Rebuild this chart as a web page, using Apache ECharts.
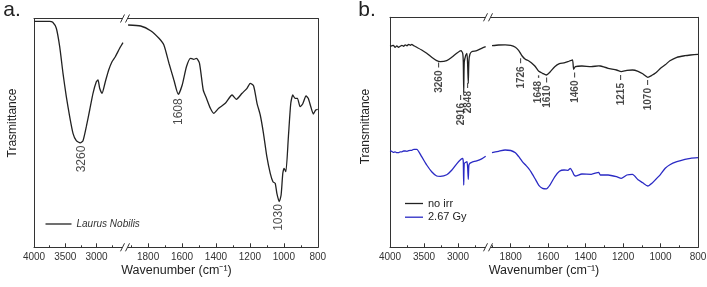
<!DOCTYPE html>
<html>
<head>
<meta charset="utf-8">
<script src="https://cdn.jsdelivr.net/npm/echarts@6/dist/echarts.min.js"></script>
<style>
html, body { margin: 0; padding: 0; background: #fff; }
#chart { width: 707px; height: 287px; }
</style>
</head>
<body>
<div id="chart"></div>
<script>
// panel a - Laurus Nobilis, high wavenumber part (4000 - 2500)
const aHighWn = [4000, 3750, 3700, 3643, 3589, 3536, 3483, 3429, 3376, 3323, 3260, 3216, 3163, 3109, 3056, 3003, 2976, 2949, 2912, 2859, 2805, 2752, 2699, 2629, 2576]
const aHighT = [226, 226, 225, 219, 200.6, 174, 150.6, 130.6, 114, 106.6, 104.5, 106.6, 120.6, 137.3, 154, 165.6, 167.3, 159, 154, 165.6, 177.3, 185.6, 190.6, 199, 204.6]
// panel a - low wavenumber part (1920 - 800)
const aLowWn = [1918, 1844, 1785, 1736, 1707, 1677, 1648, 1622, 1599, 1574, 1550, 1531, 1515, 1497, 1475, 1456, 1433, 1413, 1384, 1345, 1305, 1280, 1246, 1217, 1198, 1178, 1158, 1139, 1120, 1100, 1080, 1064, 1051, 1041, 1027, 1016, 1006, 998, 988, 973, 959, 947, 934, 920, 904, 889, 869, 856, 841, 826, 812, 800]
const aLowT = [222.3, 221.3, 216.6, 209, 202.3, 184, 167.3, 153, 162.3, 180.6, 189, 188, 189, 184, 157.3, 149, 139, 134, 139, 144, 152.3, 148, 154, 159, 164, 161.3, 144, 132.3, 114, 90.6, 74, 65.6, 64, 54, 45.6, 52.3, 74, 79, 75.6, 110.6, 144, 152.3, 149, 149, 140.6, 143.3, 151.3, 149, 140.6, 133.3, 137.3, 138]

// panel b - no irr / 2.67 Gy
const bHighWn = [4000, 3975, 3950, 3925, 3900, 3875, 3850, 3825, 3800, 3775, 3750, 3725, 3700, 3680, 3650, 3607, 3534, 3460, 3387, 3313, 3260, 3166, 3093, 3019, 2956, 2931, 2922, 2916, 2908, 2885, 2868, 2858, 2849, 2840, 2825, 2799, 2725, 2652, 2593]
const bHighNoIrr = [201, 201.5, 202, 200, 201.5, 200, 201, 202, 201, 202.5, 201.5, 203, 202, 203, 201.5, 200, 197.3, 194, 190, 186.6, 185.6, 186.6, 190, 194, 196.6, 194, 185, 155, 185, 192.3, 194, 182, 164, 186, 193, 195.6, 196.6, 199, 200.6]
const bHighGy = [96.6, 96, 95, 95.5, 94.6, 94.6, 95.5, 95.5, 96.3, 96.3, 96, 96.6, 97, 97, 98, 98, 90.6, 82.3, 75.6, 71.3, 71, 72.5, 77, 83.5, 88, 89, 85, 62.3, 84, 85, 85.6, 80, 68, 82, 84, 85, 86.5, 88.5, 91]
const bLowWn = [1900, 1865, 1830, 1800, 1775, 1757, 1739, 1722, 1705, 1690, 1670, 1650, 1630, 1610, 1590, 1565, 1540, 1515, 1495, 1482, 1470, 1464, 1455, 1420, 1370, 1330, 1322, 1280, 1235, 1210, 1180, 1150, 1120, 1095, 1068, 1046, 1025, 1000, 975, 950, 913, 870, 840, 800]
const bLowNoIrr = [201.6, 202.3, 202.5, 202, 200, 196.6, 191.3, 188, 186.5, 184.5, 181, 176, 174, 172.3, 175.3, 180.6, 183.6, 184.4, 185.6, 186.6, 187.5, 178, 180.6, 181.3, 180.6, 181.5, 181.3, 179, 177.3, 175.6, 177, 177.3, 176, 173.5, 170, 172, 174.5, 179, 182.5, 186.5, 190, 191.6, 192.3, 193]
const bLowGy = [94.6, 96, 97.3, 96.8, 94.5, 90.6, 86, 82.5, 79, 75, 68.5, 62, 59, 58.5, 62.5, 70.5, 76, 77.3, 77, 79, 75.6, 73, 71.3, 73.3, 73, 75, 72.3, 72.3, 70.6, 69, 72.3, 73, 67.5, 64.5, 61.3, 64, 68, 73, 79, 82.6, 85.6, 88, 89, 89.6]

// tick labels
const highTicks = [3000, 3500, 4000]
const highMinor = [2750, 3250, 3750]
const lowTicks = [800, 1000, 1200, 1400, 1600, 1800]
const lowMinor = [900, 1100, 1300, 1500, 1700, 1900]

// peak annotations (label centre position)
const aAnnHighWn = [3243]
const aAnnHighT = [88.3]
const aAnnHighTxt = ['3260']
const aAnnLowWn = [1619, 1032]
const aAnnLowT = [135.6, 29.8]
const aAnnLowTxt = ['1608', '1030']
const bAnnHighWn = [3275, 2956, 2853]
const bAnnHighT = [169.8, 137.3, 149.3]
const bAnnHighTxt = ['3260 –', '2916 –', '2848 –']
const bAnnLowWn = [1745, 1653, 1605, 1457, 1211, 1065]
const bAnnLowT = [174, 158.3, 154.8, 159.8, 157.3, 152.3]
const bAnnLowTxt = ['1726 –', '1648 -', '1610 –', '1460 –', '1215 –', '1070 –']

const FONT = 'Liberation Sans, Arial, sans-serif'
const AX = '#333'

function zip(xs, ys) {
    return xs.map((x, i) => [x, ys[i]])
}

function xAxes(grid, min, max, major, minor) {
    return [
        {
            type: 'value', gridIndex: grid, min: min, max: max, inverse: true, position: 'bottom',
            axisLine: { show: true, onZero: false, lineStyle: { color: AX, width: 1 } },
            axisTick: { show: true, inside: true, length: 4, customValues: major, lineStyle: { color: AX } },
            axisLabel: {
                show: true, customValues: major, margin: 5, fontSize: 10, color: '#333', fontFamily: FONT,
                formatter: function (v) { return String(v) }
            },
            splitLine: { show: false }
        },
        {
            type: 'value', gridIndex: grid, min: min, max: max, inverse: true, position: 'bottom',
            axisLine: { show: false, onZero: false },
            axisTick: { show: true, inside: true, length: 2, customValues: minor, lineStyle: { color: AX } },
            axisLabel: { show: false },
            splitLine: { show: false }
        },
        {
            type: 'value', gridIndex: grid, min: min, max: max, inverse: true, position: 'top',
            axisLine: { show: true, onZero: false, lineStyle: { color: AX, width: 1 } },
            axisTick: { show: false },
            axisLabel: { show: false },
            splitLine: { show: false }
        }
    ]
}

function yAxis(grid, max, pos) {
    return {
        type: 'value', gridIndex: grid, min: 0, max: max, position: pos,
        axisLine: { show: true, onZero: false, lineStyle: { color: AX, width: 1 } },
        axisTick: { show: false },
        axisLabel: { show: false },
        splitLine: { show: false }
    }
}

function spectrum(name, xi, yi, data, color) {
    return {
        name: name, type: 'line', xAxisIndex: xi, yAxisIndex: yi,
        data: data, symbol: 'none', smooth: 0.2, silent: true,
        lineStyle: { color: color, width: 1.3 },
        itemStyle: { color: color }
    }
}

function annotations(xi, yi, wn, t, txt, size, weight) {
    return {
        type: 'scatter', xAxisIndex: xi, yAxisIndex: yi, symbolSize: 1, silent: true,
        itemStyle: { color: 'rgba(0,0,0,0)' },
        data: wn.map((w, i) => ({ value: [w, t[i]], label: { formatter: txt[i] } })),
        label: { show: true, position: 'inside', rotate: 90, fontSize: size, fontWeight: weight, color: '#1a1a1a', fontFamily: FONT }
    }
}

function breakMark(cx, y) {
    return [
        { type: 'rect', z: 100, shape: { x: cx - 2.5, y: y - 2, width: 5, height: 4 }, style: { fill: '#fff' } },
        { type: 'line', z: 101, shape: { x1: cx - 4.5, y1: y + 4, x2: cx - 0.5, y2: y - 4 }, style: { stroke: AX, lineWidth: 1 } },
        { type: 'line', z: 101, shape: { x1: cx + 0.5, y1: y + 4, x2: cx + 4.5, y2: y - 4 }, style: { stroke: AX, lineWidth: 1 } }
    ]
}

function label(text, x, y, size, rot, extra) {
    return {
        type: 'text', x: x, y: y, rotation: rot || 0,
        style: Object.assign({ text: text, fontSize: size, fill: '#222', fontFamily: FONT, align: 'center', verticalAlign: 'middle' }, extra || {})
    }
}

const BLACK = '#222222'
const BLUE = '#2a2ac4'

let option = {
    animation: false,
    backgroundColor: '#fff',
    textStyle: { fontFamily: FONT },
    grid: [
        { left: 34, top: 18.5, width: 93.75, height: 228.8, outerBoundsMode: 'none' },
        { left: 127.75, top: 18.5, width: 190, height: 228.8, outerBoundsMode: 'none' },
        { left: 390, top: 17.3, width: 102, height: 230, outerBoundsMode: 'none' },
        { left: 492, top: 17.3, width: 206, height: 230, outerBoundsMode: 'none' }
    ],
    xAxis: [].concat(
        xAxes(0, 2500, 4000, highTicks, highMinor),
        xAxes(1, 800, 1920, lowTicks, lowMinor),
        xAxes(2, 2500, 4000, highTicks, highMinor),
        xAxes(3, 800, 1900, lowTicks, lowMinor)
    ),
    yAxis: [
        yAxis(0, 228.8, 'left'),
        yAxis(1, 228.8, 'right'),
        yAxis(2, 230, 'left'),
        yAxis(3, 230, 'right')
    ],
    legend: [
        {
            data: ['Laurus Nobilis'], left: 45.5, top: 219, padding: 0,
            icon: 'rect', itemWidth: 26, itemHeight: 1.3,
            textStyle: { fontStyle: 'italic', fontSize: 10, color: '#333', fontFamily: FONT }
        },
        {
            data: ['no irr', '2.67 Gy'], left: 405, top: 198, padding: 0, orient: 'vertical',
            icon: 'rect', itemWidth: 18, itemHeight: 1.3, itemGap: 2.7,
            textStyle: { fontSize: 11, color: '#222', fontFamily: FONT }
        }
    ],
    series: [
        spectrum('Laurus Nobilis', 0, 0, zip(aHighWn, aHighT), BLACK),
        spectrum('Laurus Nobilis', 3, 1, zip(aLowWn, aLowT), BLACK),
        spectrum('no irr', 6, 2, zip(bHighWn, bHighNoIrr), BLACK),
        spectrum('no irr', 9, 3, zip(bLowWn, bLowNoIrr), BLACK),
        spectrum('2.67 Gy', 6, 2, zip(bHighWn, bHighGy), BLUE),
        spectrum('2.67 Gy', 9, 3, zip(bLowWn, bLowGy), BLUE),
        annotations(0, 0, aAnnHighWn, aAnnHighT, aAnnHighTxt, 12, 'normal'),
        annotations(3, 1, aAnnLowWn, aAnnLowT, aAnnLowTxt, 12, 'normal'),
        annotations(6, 2, bAnnHighWn, bAnnHighT, bAnnHighTxt, 10, 'bold'),
        annotations(9, 3, bAnnLowWn, bAnnLowT, bAnnLowTxt, 10, 'bold')
    ],
    graphic: [].concat(
        breakMark(125, 18.5), breakMark(125, 247.3),
        breakMark(488, 17.3), breakMark(488, 247.3),
        [
            label('a.', 12, 10, 21),
            label('b.', 367, 10, 21),
            label('Trasmittance', 12.5, 123, 12, Math.PI / 2),
            label('Transmittance', 366, 126.5, 12, Math.PI / 2),
            label('Wavenumber (cm⁻¹)', 176.5, 271, 12.5),
            label('Wavenumber (cm⁻¹)', 544, 271, 12.5)
        ]
    )
}

const myChart = echarts.init(document.getElementById('chart'))
myChart.setOption(option)
</script>
</body>
</html>
